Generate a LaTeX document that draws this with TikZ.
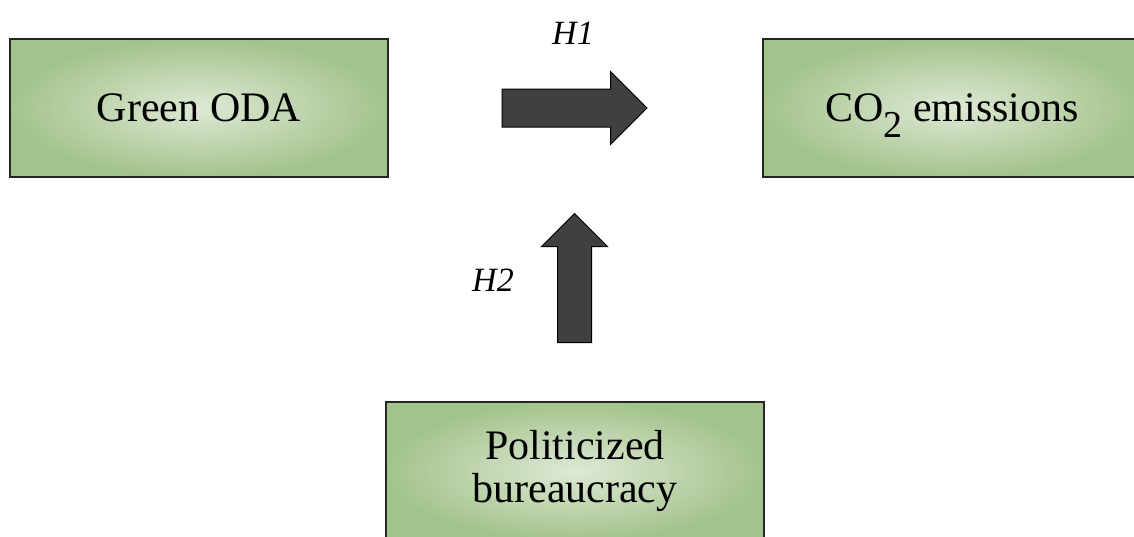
\documentclass[tikz,border=0pt]{standalone}
\usepackage{fontspec}
\setmainfont{Liberation Serif}
\usepackage{tikz}
\usetikzlibrary{shapes.arrows}

\definecolor{boxin}{RGB}{222,233,213}
\definecolor{boxout}{RGB}{163,195,140}
\definecolor{arrowgray}{RGB}{64,64,64}

\begin{document}
\begin{tikzpicture}[x=1pt, y=-1pt,
                    box/.style={draw=black!85, line width=1.5pt, inner color=boxin,
                                outer color=boxout, minimum width=378pt, minimum height=138pt,
                                align=center, font=\fontsize{42}{43}\selectfont},
                    harrow/.style={single arrow, draw=black, line width=1pt, fill=arrowgray,
                                   inner xsep=0pt, single arrow head indent=0pt},
                    hlab/.style={font=\fontsize{34}{34}\selectfont\itshape}]
      \path[use as bounding box, clip] (0,0) rectangle (1134,536);

      \node[box] (oda) at (199,108) {Green ODA};
      \node[box] (co2) at (952,108) {CO\raisebox{-16pt}[0pt][0pt]{\fontsize{38}{38}\selectfont 2} emissions};
      \node[box] (bur) at (575,471) {Politicized\\bureaucracy};

      % hypothesis arrows
      \node[harrow, inner ysep=18.5pt, minimum height=145pt,
            single arrow head extend=17.5pt] (a1) at (565,108) {};
      \node[harrow, inner ysep=16.5pt, minimum height=129pt,
            single arrow head extend=16pt, rotate=90] (a2) at (574.5,286.5) {};

      \node[hlab] (h1) at (573,33) {H1};
      \node[hlab] (h2) at (493,280) {H2};
    \end{tikzpicture}
\end{document}
